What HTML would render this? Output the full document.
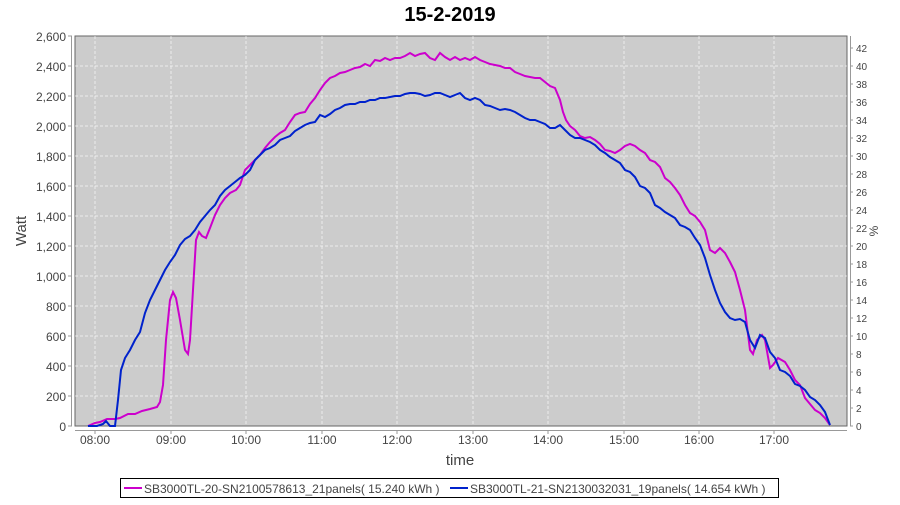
<!DOCTYPE html>
<html><head><style>body{margin:0;background:#fff}</style></head><body>
<svg width="900" height="500" xmlns="http://www.w3.org/2000/svg" font-family="Liberation Sans, sans-serif">
<text x="450" y="21" text-anchor="middle" font-size="20" font-weight="bold">15-2-2019</text>
<rect x="75" y="36" width="772" height="390" fill="#cccccc" stroke="#666" stroke-width="1"/>
<g stroke="#fff" stroke-width="0.8" stroke-dasharray="3,2" opacity="0.8">
<line x1="75" x2="847" y1="66" y2="66"/><line x1="75" x2="847" y1="96" y2="96"/><line x1="75" x2="847" y1="126" y2="126"/><line x1="75" x2="847" y1="156" y2="156"/><line x1="75" x2="847" y1="186" y2="186"/><line x1="75" x2="847" y1="216" y2="216"/><line x1="75" x2="847" y1="246" y2="246"/><line x1="75" x2="847" y1="276" y2="276"/><line x1="75" x2="847" y1="306" y2="306"/><line x1="75" x2="847" y1="336" y2="336"/><line x1="75" x2="847" y1="366" y2="366"/><line x1="75" x2="847" y1="396" y2="396"/>
<line y1="36" y2="426" x1="95" x2="95"/><line y1="36" y2="426" x1="171" x2="171"/><line y1="36" y2="426" x1="246" x2="246"/><line y1="36" y2="426" x1="322" x2="322"/><line y1="36" y2="426" x1="397" x2="397"/><line y1="36" y2="426" x1="473" x2="473"/><line y1="36" y2="426" x1="548" x2="548"/><line y1="36" y2="426" x1="624" x2="624"/><line y1="36" y2="426" x1="699" x2="699"/><line y1="36" y2="426" x1="774" x2="774"/>
</g>
<g stroke="#999" stroke-width="1">
<line x1="71.5" x2="71.5" y1="36" y2="426"/><line x1="75" x2="847" y1="430.5" y2="430.5"/><line x1="850.5" x2="850.5" y1="36" y2="426"/>
<path d="M68,36h4M68,66h4M68,96h4M68,126h4M68,156h4M68,186h4M68,216h4M68,246h4M68,276h4M68,306h4M68,336h4M68,366h4M68,396h4M68,426h4"/>
<path d="M95,430v4M171,430v4M246,430v4M322,430v4M397,430v4M473,430v4M548,430v4M624,430v4M699,430v4M774,430v4"/>
<path d="M850,426h3M850,408h3M850,390h3M850,372h3M850,354h3M850,336h3M850,318h3M850,300h3M850,282h3M850,264h3M850,246h3M850,228h3M850,210h3M850,192h3M850,174h3M850,156h3M850,138h3M850,120h3M850,102h3M850,84h3M850,66h3M850,48h3"/>
</g>
<g font-size="12" fill="#444" text-anchor="end">
<text x="66" y="41">2,600</text><text x="66" y="71">2,400</text><text x="66" y="101">2,200</text><text x="66" y="131">2,000</text><text x="66" y="161">1,800</text><text x="66" y="191">1,600</text><text x="66" y="221">1,400</text><text x="66" y="251">1,200</text><text x="66" y="281">1,000</text><text x="66" y="311">800</text><text x="66" y="341">600</text><text x="66" y="371">400</text><text x="66" y="401">200</text><text x="66" y="431">0</text>
</g>
<g font-size="10" fill="#444">
<text x="856" y="430">0</text><text x="856" y="412">2</text><text x="856" y="394">4</text><text x="856" y="376">6</text><text x="856" y="358">8</text><text x="856" y="340">10</text><text x="856" y="322">12</text><text x="856" y="304">14</text><text x="856" y="286">16</text><text x="856" y="268">18</text><text x="856" y="250">20</text><text x="856" y="232">22</text><text x="856" y="214">24</text><text x="856" y="196">26</text><text x="856" y="178">28</text><text x="856" y="160">30</text><text x="856" y="142">32</text><text x="856" y="124">34</text><text x="856" y="106">36</text><text x="856" y="88">38</text><text x="856" y="70">40</text><text x="856" y="52">42</text>
</g>
<g font-size="12" fill="#444" text-anchor="middle">
<text x="95" y="444">08:00</text><text x="171" y="444">09:00</text><text x="246" y="444">10:00</text><text x="322" y="444">11:00</text><text x="397" y="444">12:00</text><text x="473" y="444">13:00</text><text x="548" y="444">14:00</text><text x="624" y="444">15:00</text><text x="699" y="444">16:00</text><text x="774" y="444">17:00</text>
</g>
<text x="460" y="465" text-anchor="middle" font-size="15" fill="#444">time</text>
<text transform="translate(26,231) rotate(-90)" text-anchor="middle" font-size="15" fill="#444">Watt</text>
<text transform="translate(878,231) rotate(-90)" text-anchor="middle" font-size="12" fill="#444">%</text>
<polyline fill="none" stroke="#cc00cc" stroke-width="2" points="88,426 95,423 100,422 107,419 115,419 120,418 128,414 135,414 142,411 150,409 157,407 160,402 163,385 166,340 170,300 173,292 176,298 180,320 185,350 188,354 190,340 193,290 196,240 199,232 202,236 206,238 210,228 215,215 220,205 225,198 230,193 236,190 240,185 245,170 250,165 255,160 260,155 265,148 270,142 275,137 280,133 285,130 290,122 295,115 300,113 305,112 310,104 315,98 320,90 325,83 330,78 335,76 340,73 345,72 350,70 355,68 360,67 365,64 370,66 375,60 380,61 385,58 390,60 395,58 400,58 405,56 410,53 415,56 420,54 425,53 430,58 435,60 440,53 445,57 450,60 455,57 460,60 465,58 470,60 475,57 480,60 485,62 490,64 495,65 500,66 505,68 510,68 515,72 520,74 525,76 530,77 535,78 540,78 545,82 550,86 555,88 560,100 563,112 566,120 570,126 575,130 580,136 585,138 590,137 595,140 600,144 605,150 610,151 615,153 620,150 625,146 630,144 635,146 640,150 645,153 650,160 655,162 660,167 665,178 670,182 675,188 680,195 685,205 690,213 695,216 700,222 705,230 710,250 715,253 720,248 725,253 730,262 735,272 740,290 745,310 750,350 753,354 757,340 762,335 765,340 770,368 773,365 778,358 785,362 790,370 795,380 800,385 805,398 810,404 815,410 820,413 825,418 830,425"/>
<polyline fill="none" stroke="#0022cc" stroke-width="2" points="88,426 97,426 103,424 106,421 110,426 115,426 118,400 121,370 125,358 130,350 135,340 140,332 145,313 150,300 155,290 160,280 165,270 170,262 175,255 180,245 185,239 190,236 195,230 200,222 205,216 210,210 215,205 220,196 225,190 230,186 235,182 240,178 245,175 250,170 255,160 260,155 265,150 270,148 275,145 280,140 285,138 290,136 295,131 300,128 305,125 310,123 315,122 320,115 325,117 330,114 335,110 340,108 345,105 350,104 355,104 360,102 365,102 370,100 375,100 380,98 385,98 390,97 395,96 400,96 405,94 410,93 415,93 420,94 425,96 430,95 435,93 440,93 445,95 450,97 455,95 460,93 465,98 470,100 475,98 480,100 485,105 490,106 495,108 500,110 505,109 510,110 515,112 520,115 525,118 530,120 535,120 540,122 545,124 550,128 555,128 560,125 565,130 570,135 575,138 580,138 585,140 590,142 595,145 600,150 605,153 610,157 615,160 620,163 625,170 630,172 635,177 640,186 645,188 650,193 655,205 660,208 665,212 670,215 675,218 680,225 685,227 690,230 695,238 700,245 705,258 710,275 715,290 720,303 725,312 730,318 735,320 740,319 745,322 750,340 755,348 760,335 765,338 770,352 775,358 780,370 785,372 790,376 795,384 800,386 805,390 810,397 815,400 820,405 825,412 830,425"/>
<rect x="120.5" y="478.5" width="658" height="19" fill="#fff" stroke="#000"/>
<line x1="124" x2="142" y1="488" y2="488" stroke="#cc00cc" stroke-width="2"/>
<text x="144" y="493" font-size="12" fill="#444">SB3000TL-20-SN2100578613_21panels( 15.240 kWh )</text>
<line x1="450" x2="468" y1="488" y2="488" stroke="#0022cc" stroke-width="2"/>
<text x="470" y="493" font-size="12" fill="#444">SB3000TL-21-SN2130032031_19panels( 14.654 kWh )</text>
</svg>
</body></html>
